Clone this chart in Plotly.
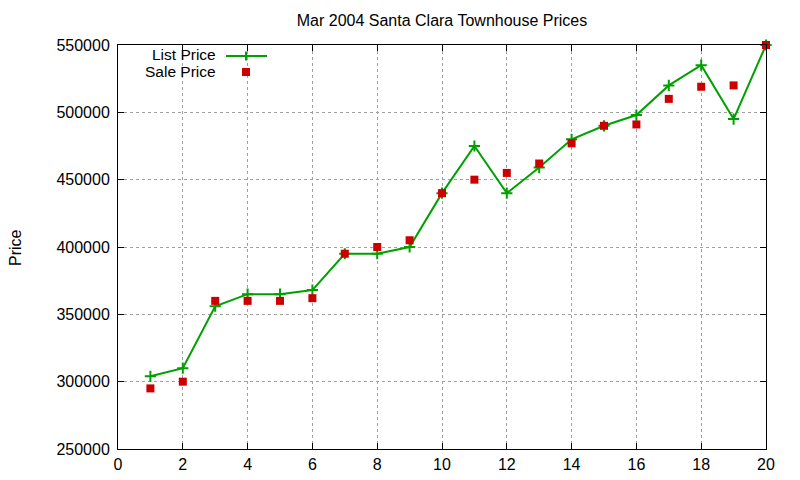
import plotly.graph_objects as go

title_text = "Mar 2004 Santa Clara Townhouse Prices"
y_label = "Price"
series_names = ["List Price", "Sale Price"]

house_index = list(range(1, 21))
list_price = [304000, 310000, 356000, 365000, 365000, 368000, 395000, 395000, 400000, 440000,
              475000, 440000, 459000, 480000, 490000, 498000, 520000, 535000, 495000, 550000]
sale_price = [295000, 300000, 360000, 360000, 360000, 362000, 395000, 400000, 405000, 440000,
              450000, 455000, 462000, 477000, 490000, 491000, 510000, 519000, 520000, 550000]

x_ticks = list(range(0, 21, 2))
y_ticks = list(range(250000, 550001, 50000))

GREEN = "#00a000"
RED = "#cc0000"
FONT = "Liberation Sans, Arial, sans-serif"

# page body has an 8px margin; compensate so the plot lands at the reference pixels
OFF = 8
fig = go.Figure()
fig.add_trace(go.Scatter(
    x=house_index, y=list_price, mode="lines+markers", name=series_names[0],
    line=dict(color=GREEN, width=2),
    marker=dict(symbol="cross-thin", size=8, line=dict(color=GREEN, width=2)),
    showlegend=False, cliponaxis=False,
))
fig.add_trace(go.Scatter(
    x=house_index, y=sale_price, mode="markers", name=series_names[1],
    marker=dict(symbol="square", size=8, color=RED, line=dict(width=0)),
    showlegend=False, cliponaxis=False,
))

# target plot box in page pixels: x 118..766, y 45..449
PL, PR, PT, PB = 118, 766, 45, 449
W, H = 800 - OFF, 480 - OFF
L, T = PL - OFF, PT - OFF
R, B = W - (PR - OFF), H - (PB - OFF)
pw, ph = PR - PL, PB - PT

def px(xp):
    return (xp - PL) / pw

def py(yp):
    return (PB - yp) / ph

axis_common = dict(
    showline=True, linecolor="black", linewidth=1, mirror="ticks",
    ticks="inside", ticklen=6, tickcolor="black", tickwidth=1,
    showgrid=True, gridcolor="#a0a0a0", griddash="dot", gridwidth=1,
    zeroline=False, tickfont=dict(family=FONT, size=16, color="black"),
)

fig.update_layout(
    width=W, height=H,
    margin=dict(l=L, r=R, t=T, b=B, autoexpand=False),
    paper_bgcolor="white", plot_bgcolor="white",
    title=dict(text=title_text, x=0.5, xref="paper", y=1 - (20 - OFF) / H, yanchor="middle",
               font=dict(family=FONT, size=16, color="black")),
    xaxis=dict(range=[0, 20], tickvals=x_ticks, ticklabelstandoff=1, **axis_common),
    yaxis=dict(range=[250000, 550000], tickvals=y_ticks, tickformat="d",
               ticklabelstandoff=4, **axis_common),
    font=dict(family=FONT, color="black"),
)

fig.add_annotation(text=y_label, xref="paper", yref="paper", x=px(15), y=0.5,
                   textangle=-90, showarrow=False, xanchor="center", yanchor="middle",
                   height=14, font=dict(family=FONT, size=16, color="black"))

# manual gnuplot-style legend (text left, sample right)
leg_rows = [54.5, 71.5]
for name, yr in zip(series_names, leg_rows):
    fig.add_annotation(text=name, xref="paper", yref="paper", x=px(218), y=py(yr),
                       xanchor="right", yanchor="middle", showarrow=False, height=15,
                       font=dict(family=FONT, size=15.5, color="black"))
fig.add_shape(type="line", xref="paper", yref="paper", x0=px(226), x1=px(267),
              y0=py(56), y1=py(56), line=dict(color=GREEN, width=2))
for (dx0, dx1, dy0, dy1) in [(-4.5, 4.5, 0, 0), (0, 0, -4.5, 4.5)]:
    fig.add_shape(type="line", xref="paper", yref="paper",
                  xsizemode="pixel", ysizemode="pixel", xanchor=px(246), yanchor=py(56),
                  x0=dx0, x1=dx1, y0=dy0, y1=dy1, line=dict(color=GREEN, width=2))
fig.add_shape(type="rect", xref="paper", yref="paper",
              xsizemode="pixel", ysizemode="pixel", xanchor=px(246), yanchor=py(72),
              x0=-4, x1=4, y0=-4, y1=4, fillcolor=RED, line=dict(width=0))

fig.write_html("out.html")
